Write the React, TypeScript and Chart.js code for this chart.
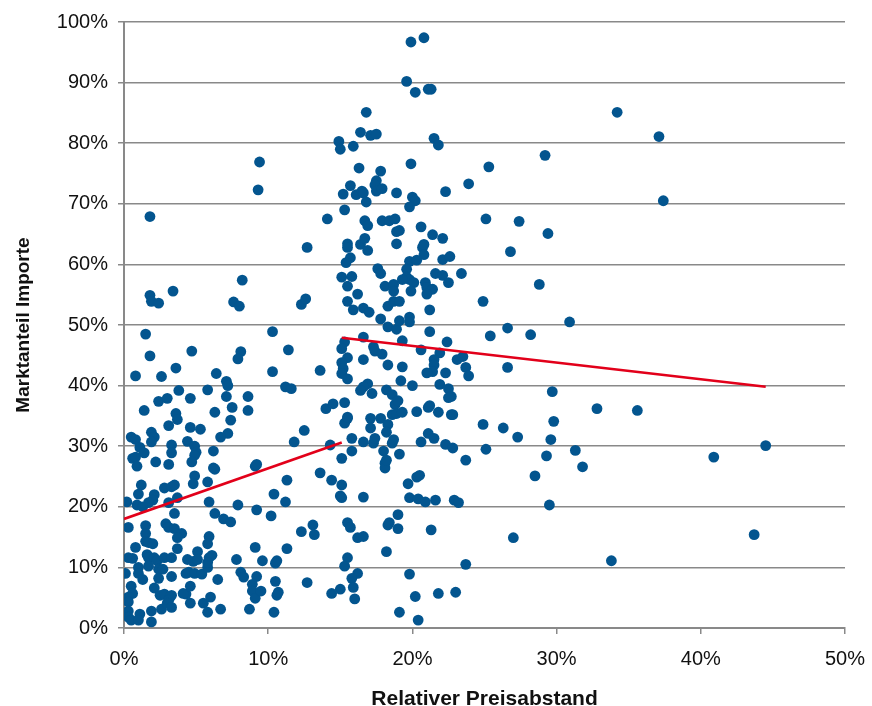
import React, { useEffect, useRef } from "react";
import { Chart, registerables } from "chart.js";

Chart.register(...registerables);

// [Relativer Preisabstand %, Marktanteil Importe %]
const lowGapPoints: [number, number][] = [
  [9.4,76.9],[9.3,72.3],[1.8,67.9],[8.2,57.4],[3.4,55.6],[1.8,54.9],[1.9,53.9],[2.4,53.6],[7.6,53.8],[8.0,53.1],
  [1.5,48.5],[10.3,48.9],[1.8,44.9],[4.7,45.7],[8.1,45.6],[7.9,44.4],[11.4,45.9],[0.8,41.6],[2.6,41.5],[3.6,42.9],
  [6.4,42.0],[10.3,42.3],[7.1,40.7],[7.2,40.0],[11.2,39.8],[11.6,39.5],[3.8,39.2],[5.8,39.3],[2.4,37.4],[3.0,37.9],
  [4.6,37.9],[7.1,38.2],[8.6,38.2],[1.4,35.9],[3.6,35.4],[3.7,34.4],[6.3,35.6],[7.5,36.4],[8.6,35.9],[7.4,34.3],
  [3.1,33.4],[4.6,33.1],[5.3,32.8],[0.5,31.5],[0.8,31.1],[1.9,32.3],[2.1,31.5],[1.9,30.7],[4.4,30.8],[7.2,32.1],
  [6.7,31.5],[1.1,29.8],[1.4,28.9],[3.3,30.2],[3.3,28.9],[4.9,30.0],[5.0,29.0],[4.9,28.5],[6.2,29.2],[11.8,30.7],
  [0.6,28.0],[0.8,28.2],[0.9,26.7],[2.2,27.4],[3.1,27.0],[4.7,27.4],[6.2,26.4],[9.1,26.7],[9.2,27.0],
];

const lowGapSmallShare: [number, number][] = [
  [6.3,26.2],[11.3,24.4],[4.9,25.1],[4.8,23.8],[5.8,24.1],[1.2,23.6],[2.8,23.1],[3.3,23.3],[3.5,23.6],[1.0,22.1],
  [2.1,22.0],[2.0,21.1],[1.7,20.7],[3.7,21.5],[0.2,20.8],[0.9,20.3],[1.3,20.0],[3.1,20.7],[5.9,20.8],[7.9,20.3],
  [9.2,19.5],[11.2,20.8],[10.4,22.1],[3.5,18.9],[6.3,18.9],[6.9,18.0],[7.4,17.5],[10.2,18.5],[0.3,16.6],[1.5,16.9],
  [2.9,17.2],[3.1,16.6],[3.5,16.4],[1.5,15.6],[4.0,15.6],[3.7,14.9],[5.9,15.1],[5.8,13.9],[1.5,14.3],[1.7,14.1],
  [2.0,13.9],[0.8,13.3],[3.7,13.1],[5.1,12.6],[9.1,13.3],[11.3,13.1],[0.3,11.6],[0.6,11.5],[1.6,12.1],[1.7,11.6],
  [2.1,11.6],[2.3,11.1],[2.8,11.6],[3.3,11.6],[4.4,11.3],[4.8,11.0],[5.1,11.3],[5.9,11.6],[6.1,12.0],[7.8,11.3],
  [9.6,11.1],[10.6,11.1],[10.5,10.7],[0.1,9.0],[1.0,10.0],[1.0,9.0],[1.7,10.2],[1.3,8.0],[2.4,9.7],[2.7,9.7],
  [2.4,8.2],[3.3,8.5],[4.3,9.0],[4.5,9.2],[4.9,9.0],[5.4,8.9],[5.8,10.0],[5.8,10.8],[6.5,8.0],[8.1,9.2],
  [8.3,8.4],[9.2,8.5],[10.5,7.7],[0.5,6.9],[0.6,5.7],[0.3,5.1],[0.3,4.3],[2.1,6.6],[2.5,5.4],[2.8,5.6],
  [3.2,5.1],[3.3,5.4],[3.1,4.6],[4.3,5.6],[4.1,5.7],[4.6,6.9],[4.6,4.1],[5.5,4.1],[6.0,5.1],[5.8,2.6],
  [6.7,3.1],[8.9,7.2],[8.9,6.1],[9.1,4.9],[9.5,6.1],[8.7,3.1],[10.4,2.6],[10.6,5.4],[10.7,5.9],[0.3,2.8],
  [0.3,1.8],[0.5,1.3],[1.1,2.3],[1.0,1.3],[1.9,2.8],[1.9,1.0],[2.6,3.1],[3.0,4.1],[3.3,3.4],
];

const midGapHighShare: [number, number][] = [
  [19.9,96.7],[20.8,97.4],[19.6,90.2],[20.2,88.4],[21.1,88.9],[21.3,88.9],[16.8,85.1],[16.4,81.8],[17.1,81.3],[17.5,81.5],
  [14.9,80.3],[15.0,79.0],[15.9,79.5],[21.5,80.8],[21.8,79.7],[19.9,76.6],[16.3,75.9],[17.8,75.4],[17.5,73.8],[17.4,73.1],
  [17.5,72.1],[17.9,72.5],[15.7,73.0],[15.2,71.6],[16.1,71.5],[16.5,72.1],[16.6,71.8],[16.8,70.3],[18.9,71.8],[20.0,71.1],
  [20.2,70.5],[22.3,72.0],[23.9,73.3],[15.3,69.0],[19.8,69.5],
  [14.1,67.5],[16.7,67.2],[16.9,66.4],[17.9,67.2],[18.4,67.2],[18.8,67.5],[20.6,66.2],[18.9,65.4],[19.1,65.6],[18.9,63.4],
  [21.4,64.9],[22.1,64.3],[12.7,62.8],[15.5,63.4],[15.5,62.8],[16.4,63.3],[16.7,64.3],[16.9,62.3],[20.7,62.8],[20.8,63.3],
  [20.8,61.6],[15.7,61.1],[15.4,60.3],[22.1,60.8],[22.6,61.3],[19.8,60.5],[20.3,60.7],[17.6,59.3],[17.8,58.5],[15.1,57.9],
  [15.8,58.0],[19.6,59.2],[19.6,57.9],[19.8,57.5],[19.3,57.5],[20.1,57.0],[20.9,57.0],[21.0,56.2],[21.4,55.9],[21.6,58.5],
  [22.1,58.2],[22.5,57.0],[23.4,58.5],[15.5,56.4],[18.1,56.4],[18.7,56.7],[18.7,55.6],[19.9,55.6],[21.0,55.1],[16.2,55.1],
  [12.3,53.4],[12.6,54.3],[15.5,53.9],[18.3,53.1],[18.7,53.9],[19.1,53.9],[15.9,52.5],[16.6,52.8],[17.0,52.1],[21.2,52.5],
  [17.8,51.0],[18.3,49.7],[18.9,49.3],[19.1,50.7],[19.8,51.3],[19.8,50.5],[21.2,48.9],[16.6,48.0],[15.3,47.2],[15.1,46.1],
  [17.3,46.4],[17.4,45.7],[17.9,45.2],[19.3,47.4],[20.6,45.9],[21.9,45.4],[22.4,47.2],[23.1,44.3],[23.5,44.8],[15.5,44.6],
  [15.1,43.8],[15.2,42.8],[16.6,44.3],[18.3,43.4],[19.3,43.1],[21.5,44.3],[21.5,43.4],[21.4,42.3],[21.0,42.1],[22.3,42.1],
  [23.7,43.0],[23.9,41.6],[13.6,42.5],[15.1,42.0],[15.5,41.1],[19.2,40.8],[20.0,40.0],[16.9,40.3],[16.6,39.8],[21.9,40.2],
  [22.5,39.5],
];

const midGapLowShare: [number, number][] = [
  [16.4,39.2],[17.2,38.7],[18.2,39.3],[18.6,38.5],[18.8,36.9],[19.0,37.5],[22.7,38.2],[22.5,38.0],[14.0,36.2],[14.5,37.0],
  [15.3,37.2],[15.5,34.6],[15.3,33.8],[15.5,34.8],[17.1,34.6],[17.8,34.6],[18.6,35.2],[18.9,35.4],[19.3,35.6],[18.3,33.6],
  [18.2,32.3],[17.1,33.0],[20.3,35.7],[21.2,36.7],[21.1,36.4],[21.8,35.6],[22.7,35.2],[22.8,35.2],[12.5,32.6],[15.8,31.3],
  [15.8,29.2],[15.1,28.0],[14.3,30.2],[13.6,25.6],[14.4,24.4],[15.1,23.6],[15.0,21.8],[15.1,21.5],[16.6,21.6],[16.6,30.7],
  [17.3,30.5],[17.4,31.3],[18.0,29.2],[18.1,27.2],[18.1,26.4],[18.2,27.7],[18.6,30.5],[18.7,31.1],[19.1,28.7],[20.6,30.7],
  [21.1,32.1],[21.5,31.3],[22.3,30.3],[22.8,29.7],[23.7,27.7],[19.7,23.8],[20.3,24.9],[20.5,25.2],[19.8,21.5],[20.4,21.3],
  [20.9,20.8],[21.6,21.1],[22.9,21.1],[23.2,20.7],[12.3,15.9],[13.1,17.0],[13.2,15.4],[15.5,17.4],[15.7,16.6],[16.2,14.9],
  [16.6,15.1],[18.3,17.0],[18.4,17.4],[19.0,16.4],[19.0,18.7],[21.3,16.2],[18.2,12.6],[15.5,11.6],[15.3,10.2],[16.2,9.0],
  [15.8,8.2],[15.9,6.7],[16.0,4.8],[15.0,6.4],[14.4,5.7],[12.7,7.5],[19.8,8.9],[20.2,5.2],[21.8,5.7],[23.0,5.9],
  [19.1,2.6],[20.4,1.3],[23.7,10.5],
];

const highGapPoints: [number, number][] = [
  [34.2,85.1],[37.1,81.1],[29.2,78.0],[25.3,76.1],[37.4,70.5],[25.1,67.5],[27.4,67.1],[29.4,65.1],[26.8,62.1],[28.8,56.7],
  [24.9,53.9],[30.9,50.5],[25.4,48.2],[26.6,49.5],[28.2,48.4],[26.6,43.0],[29.7,39.0],[32.8,36.2],[35.6,35.9],[24.9,33.6],
  [26.3,33.0],[27.3,31.5],[29.8,34.1],[29.6,31.1],[25.1,29.5],[31.3,29.3],[29.3,28.4],[31.8,26.6],[28.5,25.1],[29.5,20.3],
  [27.0,14.9],[33.8,11.1],[40.9,28.2],[44.5,30.1],[43.7,15.4],
];

// Trend lines (x %, y %)
const trendLowX = [0, 15.1];
const trendLowY = [18.0, 30.6];
const trendHighX = [15.1, 44.5];
const trendHighY = [47.9, 39.8];

const xTicksMax = 50;
const yTicksMax = 100;

const xTitle = "Relativer Preisabstand";
const yTitle = "Marktanteil Importe";

const POINT_COLOR = "#03558f";
const LINE_COLOR = "#e2001a";
const GRID_COLOR = "#898989";
const FONT = "Arial, 'Liberation Sans', sans-serif";

export default function App() {
  const ref = useRef<HTMLCanvasElement | null>(null);

  useEffect(() => {
    document.body.style.margin = "0";
    const canvas = ref.current;
    if (!canvas) return;
    const allPoints = [
      ...lowGapPoints,
      ...lowGapSmallShare,
      ...midGapHighShare,
      ...midGapLowShare,
      ...highGapPoints,
    ].map(([x, y]) => ({ x, y }));

    const chart = new Chart(canvas, {
      type: "scatter",
      data: {
        datasets: [
          {
            type: "line",
            data: trendLowX.map((x, i) => ({ x, y: trendLowY[i] })),
            borderColor: LINE_COLOR,
            borderWidth: 2.6,
            pointRadius: 0,
            fill: false,
            order: 0,
          } as any,
          {
            type: "line",
            data: trendHighX.map((x, i) => ({ x, y: trendHighY[i] })),
            borderColor: LINE_COLOR,
            borderWidth: 2.6,
            pointRadius: 0,
            fill: false,
            order: 0,
          } as any,
          {
            data: allPoints,
            backgroundColor: POINT_COLOR,
            borderColor: POINT_COLOR,
            borderWidth: 0,
            pointRadius: 5.4,
            order: 1,
          },
        ],
      },
      options: {
        responsive: false,
        animation: false,
        events: [],
        layout: { padding: { left: 12, top: 18, right: 27, bottom: 0 } },
        plugins: {
          legend: { display: false },
          tooltip: { enabled: false },
        },
        scales: {
          x: {
            type: "linear",
            min: 0,
            max: xTicksMax,
            afterFit: (s: any) => {
              s.height = 78;
              s.paddingRight = 20;
              s.paddingLeft = 10;
            },
            ticks: {
              stepSize: 10,
              color: "#111",
              padding: 13,
              font: { family: FONT, size: 20 },
              callback: (v: any) => v + "%",
            },
            grid: {
              display: true,
              drawOnChartArea: false,
              drawTicks: true,
              tickLength: 6,
              color: GRID_COLOR,
              lineWidth: 1.5,
            },
            border: { display: true, color: GRID_COLOR, width: 2 },
            title: {
              display: true,
              text: xTitle,
              color: "#111",
              font: { family: FONT, size: 21, weight: "bold", lineHeight: 0.65 },
              padding: { top: 0, bottom: 0 },
            },
          },
          y: {
            type: "linear",
            min: 0,
            max: yTicksMax,
            afterFit: (s: any) => {
              s.width = 112;
            },
            ticks: {
              stepSize: 10,
              color: "#111",
              padding: 10,
              font: { family: FONT, size: 20 },
              callback: (v: any) => v + "%",
            },
            grid: {
              display: true,
              drawTicks: true,
              tickLength: 6,
              color: GRID_COLOR,
              lineWidth: 1.5,
            },
            border: { display: true, color: GRID_COLOR, width: 2 },
            title: {
              display: true,
              text: yTitle,
              color: "#111",
              font: { family: FONT, size: 19, weight: "bold" },
              padding: { top: 0, bottom: 0 },
            },
          },
        },
      },
    });
    return () => chart.destroy();
  }, []);

  return (
    <div style={{ width: 872, height: 706 }}>
      <canvas ref={ref} width={872} height={706} style={{ display: "block" }} />
    </div>
  );
}
